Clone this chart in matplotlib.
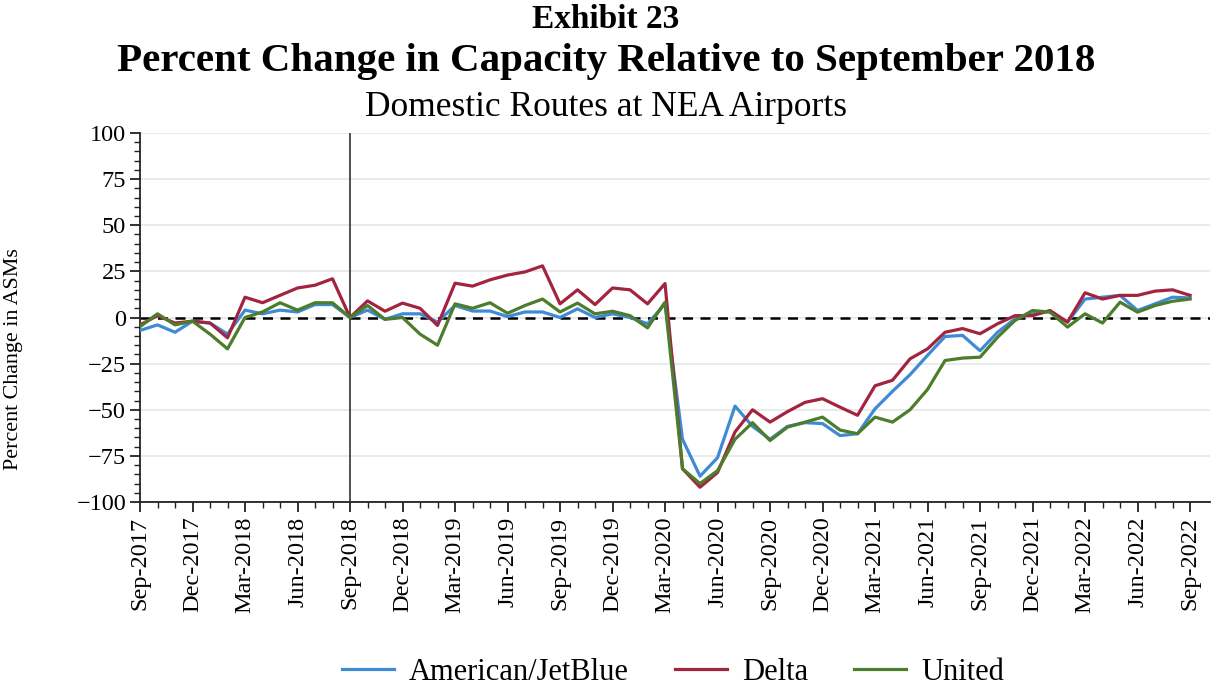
import matplotlib
matplotlib.use("Agg")
import matplotlib.pyplot as plt
from matplotlib.ticker import MultipleLocator, FixedLocator

months = ["Sep", "Oct", "Nov", "Dec", "Jan", "Feb", "Mar", "Apr", "May", "Jun", "Jul", "Aug"]
years_start = 2017
n_months = 61
tick_labels = []
for i in range(n_months):
    m = months[i % 12]
    y = years_start + (i + 8) // 12
    tick_labels.append(f"{m}-{y}")

american = [-7, -4, -8, -2, -3, -9, 4, 2, 4, 3, 7, 7, 0,
            4, -1, 2, 2, -2.5, 6.5, 3.5, 3.5, 0.5, 3, 3, 0, 4.7, 0, 2, 0, -3.4, 7.4,
            -66, -86, -76, -48, -59, -66, -59, -57, -57.5, -64, -63, -49.5, -40, -31,
            -20.5, -10.3, -9.7, -18, -8, -0.7, 2, 3.4, -2.5, 10, 11, 12, 3.8, 7.4, 11, 10.6]
delta = [-4, 1, -3, -2, -3, -11, 11, 8, 12, 16, 17.5, 21, 0,
         9, 3.4, 7.8, 5, -4.3, 18.6, 17, 20.4, 23, 24.7, 28, 7.4, 15, 7, 16, 15, 7.4, 18.4,
         -82, -92, -84, -62, -50, -56.7, -51, -46, -44, -48.6, -53, -37, -34, -22.4,
         -17, -8, -6, -8.8, -3.4, 1, 1, 3.8, -2.5, 13.4, 10, 12, 12, 14.3, 15, 12]
united = [-5, 2, -4, -2, -9, -17, 0, 3, 8, 4, 8, 8, 0,
          6.5, -1, 0, -9, -15, 7.4, 5, 8, 2.3, 6.5, 10, 3, 7.8, 2, 3.4, 1, -5.6, 8.3,
          -82, -90, -83, -66, -57, -66.7, -59.4, -56.7, -54, -61, -63, -54, -56.7, -50,
          -39, -23.3, -22, -21.5, -10.7, -1.6, 3.8, 2.9, -5.2, 2, -3, 8.3, 2.9, 6.5, 8.8, 10]

series_names = ["American/JetBlue", "Delta", "United"]
colors = ["#3f8ad4", "#a3243f", "#4c7d2c"]

plt.rcParams['font.family'] = ['Liberation Serif', 'DejaVu Serif']

fig = plt.figure(figsize=(12.12, 6.89), dpi=100)
ax = fig.add_axes([140/1212, 1 - 502/689, (1210-140)/1212, (502-133)/689])

x = list(range(n_months))
for vals, name, c in zip([american, delta, united], series_names, colors):
    ax.plot(x, vals, color=c, lw=2.3, label=name, zorder=3)

ax.set_xlim(0, 61.14)
ax.set_ylim(-100, 100)
ax.yaxis.set_major_locator(MultipleLocator(25))
ax.yaxis.set_minor_locator(MultipleLocator(5))
ax.xaxis.set_major_locator(FixedLocator(list(range(0, n_months, 3))))
ax.xaxis.set_minor_locator(FixedLocator(list(range(0, n_months))))
ax.set_xticklabels([tick_labels[i] for i in range(0, n_months, 3)], rotation=90, fontsize=17.5)
ax.tick_params(axis='y', labelsize=17.5, pad=3)
ax.tick_params(which='major', length=7, width=1.3, color='#222222')
ax.tick_params(which='minor', length=4, width=1.0, color='#222222')

ax.grid(axis='y', color='#e6e6e6', lw=1.2, zorder=0)
ax.axhline(0, color='black', lw=1.8, ls=(0, (4, 3)), zorder=2)
ax.axvline(12, color='#333333', lw=1.2, zorder=2)

for s in ['top', 'right']:
    ax.spines[s].set_visible(False)
for s in ['left', 'bottom']:
    ax.spines[s].set_color('#222222')
    ax.spines[s].set_linewidth(1.3)

ax.set_ylabel("Percent Change in ASMs", fontsize=15.8)
ax.yaxis.set_label_coords((23 - 140) / 1070, (502 - 359) / 369)

fig.text(0.5, 1 - 19/689, "Exhibit 23", ha='center', va='center', fontsize=24, fontweight='bold')
fig.text(0.5, 1 - 62/689, "Percent Change in Capacity Relative to September 2018",
         ha='center', va='center', fontsize=29.5, fontweight='bold')
fig.text(0.5, 1 - 108/689, "Domestic Routes at NEA Airports", ha='center', va='center', fontsize=25.5)

fig.legend(loc='center', bbox_to_anchor=(673/1212, 1 - 672/689), ncol=3, frameon=False,
           fontsize=22, handlelength=1.7, handletextpad=0.5, columnspacing=1.5)

fig.savefig("out.png", dpi=100)
